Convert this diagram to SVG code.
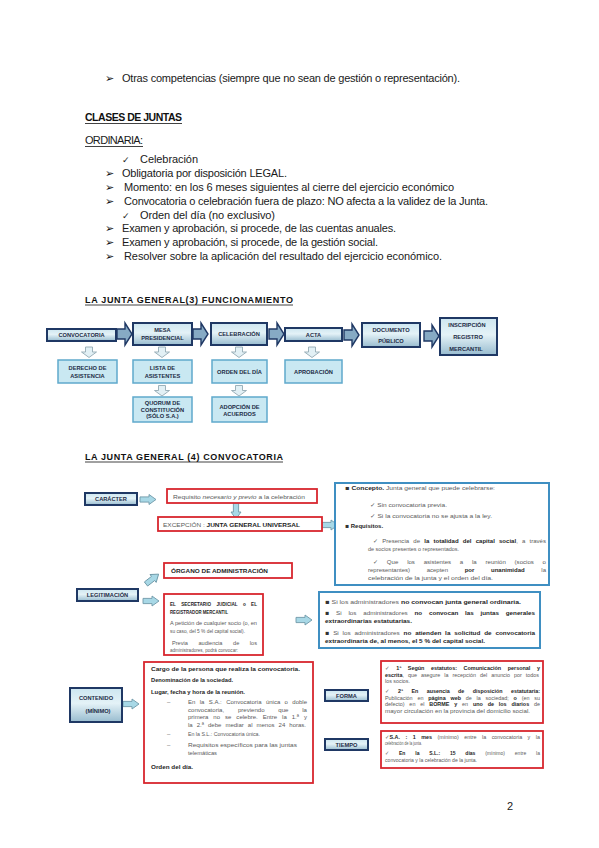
<svg xmlns="http://www.w3.org/2000/svg" width="599" height="848" viewBox="0 0 599 848">
<defs>
<style>
.t{font-family:"Liberation Sans",Arial,sans-serif;font-size:11px;fill:#1a1a1a}
.h{font-family:"Liberation Sans",Arial,sans-serif;font-weight:bold;fill:#111}
.sym{font-family:"DejaVu Sans",sans-serif}
.ar{font-family:"DejaVu Sans",sans-serif;font-size:11px;fill:#111}
.fb{font-family:"Liberation Sans",Arial,sans-serif;font-size:5.7px;font-weight:bold;fill:#1c2b45;text-anchor:middle}
.nb{fill:url(#gNavy);stroke:#1f3864;stroke-width:2}
.lb{fill:#c9e8f2;stroke:#5fa9cc;stroke-width:1.5}
.ba{fill:#86aac4;stroke:#1f3864;stroke-width:1.4}
.da{fill:#e2f0f5;stroke:#93a9b3;stroke-width:0.9}
.ca{fill:#a8d8e6;stroke:#6f98a8;stroke-width:0.9}
.rb{fill:#fff;stroke:#d8262e;stroke-width:1.8}
.bb{fill:#fff;stroke:#3f8fc2;stroke-width:2}
.s{font-family:"Liberation Sans",Arial,sans-serif;font-size:5.6px;fill:#5a5a5a}
.c6{font-size:6px}
.c62{font-size:6.2px}
.f{font-size:5.4px}
.k{font-weight:bold;fill:#1e1e1e}
.i{font-style:italic}
.ln{stroke:#111;stroke-width:0.8}
</style>
<linearGradient id="gNavy" x1="0" y1="0" x2="0" y2="1">
<stop offset="0" stop-color="#cde6f0"/>
<stop offset="0.45" stop-color="#e4f2f7"/>
<stop offset="1" stop-color="#98bccf"/>
</linearGradient>
<path id="big" d="M0,-5 H8 V-11 L15,0 L8,11 V5 H0 Z"/>
<path id="down" d="M-3.5,0 H3.5 V5 H7.5 L0,10.5 L-7.5,5 H-3.5 Z"/>
<path id="ra" d="M0,-2.6 H9 V-5 L16,0 L9,5 V2.6 H0 Z"/>
</defs>
<rect width="599" height="848" fill="#fff"/>

<g id="intro">
<text class="ar" x="105" y="82">➢</text>
<text class="t" x="122" y="82" textLength="338">Otras competencias (siempre que no sean de gestión o representación).</text>
<text class="h" x="85" y="121" font-size="10.5" textLength="97">CLASES DE JUNTAS</text>
<line class="ln" x1="85" y1="123.5" x2="182" y2="123.5"/>
<text class="t" x="85" y="144" textLength="58">ORDINARIA:</text>
<line class="ln" x1="85" y1="146.5" x2="143" y2="146.5" stroke-width="0.6"/>
<text class="sym" x="122" y="163" font-size="9" fill="#222">✓</text>
<text class="t" x="140" y="163" textLength="58">Celebración</text>
<text class="ar" x="105" y="177">➢</text>
<text class="t" x="122" y="177" textLength="165">Obligatoria por disposición LEGAL.</text>
<text class="ar" x="105" y="191">➢</text>
<text class="t" x="124" y="191" textLength="330">Momento: en los 6 meses siguientes al cierre del ejercicio económico</text>
<text class="ar" x="105" y="205">➢</text>
<text class="t" x="124" y="205" textLength="364">Convocatoria o celebración fuera de plazo: NO afecta a la validez de la Junta.</text>
<text class="sym" x="122" y="219" font-size="9" fill="#222">✓</text>
<text class="t" x="140" y="219" textLength="135">Orden del día (no exclusivo)</text>
<text class="ar" x="105" y="232">➢</text>
<text class="t" x="122" y="232" textLength="274">Examen y aprobación, si procede, de las cuentas anuales.</text>
<text class="ar" x="105" y="246">➢</text>
<text class="t" x="122" y="246" textLength="256">Examen y aprobación, si procede, de la gestión social.</text>
<text class="ar" x="105" y="260">➢</text>
<text class="t" x="124" y="260" textLength="318">Resolver sobre la aplicación del resultado del ejercicio económico.</text>
</g>

<g id="title3">
<text class="h" x="85" y="303" font-size="9" textLength="208">LA JUNTA GENERAL(3) FUNCIONAMIENTO</text>
<line class="ln" x1="85" y1="305" x2="293" y2="305"/>
</g>

<g id="flow-connectors">
<use href="#big" class="ba" x="117" y="334"/>
<use href="#big" class="ba" x="193" y="334"/>
<use href="#big" class="ba" x="269" y="334"/>
<use href="#big" class="ba" x="344" y="335"/>
<use href="#big" class="ba" x="424" y="336"/>
<use href="#down" class="da" x="89" y="347"/>
<use href="#down" class="da" x="162" y="347"/>
<use href="#down" class="da" x="239" y="347"/>
<use href="#down" class="da" x="312" y="347"/>
<use href="#down" class="da" x="162" y="385.5"/>
<use href="#down" class="da" x="239" y="385.5"/>
</g>

<g id="convocatoria"><rect class="nb" x="47" y="329" width="69" height="12"/><text class="fb" x="81.5" y="337.2">CONVOCATORIA</text></g>
<g id="mesa"><rect class="nb" x="133" y="323" width="59" height="22"/><text class="fb" x="162.5" y="332">MESA</text><text class="fb" x="162.5" y="339.5">PRESIDENCIAL</text></g>
<g id="celebracion"><rect class="nb" x="211" y="323" width="56" height="22"/><text class="fb" x="239" y="336">CELEBRACIÓN</text></g>
<g id="acta"><rect class="nb" x="285" y="328" width="57" height="13"/><text class="fb" x="313.5" y="336.8">ACTA</text></g>
<g id="documento"><rect class="nb" x="362" y="323" width="58" height="24"/><text class="fb" x="391" y="331.5">DOCUMENTO</text><text class="fb" x="391" y="343">PÚBLICO</text></g>
<g id="inscripcion"><rect class="nb" x="440" y="318" width="57" height="37"/><text class="fb" x="467" y="326.5">INSCRIPCIÓN</text><text class="fb" x="468" y="339">REGISTRO</text><text class="fb" x="466" y="351">MERCANTIL</text></g>
<g id="derecho"><rect class="lb" x="58" y="360" width="59" height="23"/><text class="fb" x="87.5" y="370">DERECHO DE</text><text class="fb" x="87.5" y="377.5">ASISTENCIA</text></g>
<g id="lista"><rect class="lb" x="133" y="360" width="59" height="23"/><text class="fb" x="162.5" y="370">LISTA DE</text><text class="fb" x="162.5" y="377.5">ASISTENTES</text></g>
<g id="orden"><rect class="lb" x="212" y="360" width="55" height="23"/><text class="fb" x="239.5" y="373.7">ORDEN DEL DÍA</text></g>
<g id="aprobacion"><rect class="lb" x="285" y="360" width="57" height="23"/><text class="fb" x="313.5" y="373.7">APROBACIÓN</text></g>
<g id="quorum"><rect class="lb" x="133" y="397" width="59" height="25"/><text class="fb" x="162.5" y="405.2">QUORUM DE</text><text class="fb" x="162.5" y="411.6">CONSTITUCIÓN</text><text class="fb" x="162.5" y="418.2">(SÓLO S.A.)</text></g>
<g id="adopcion"><rect class="lb" x="212" y="397" width="55" height="25"/><text class="fb" x="239.5" y="408.8">ADOPCIÓN DE</text><text class="fb" x="239.5" y="415.6">ACUERDOS</text></g>

<g id="title4">
<text class="h" x="85" y="460" font-size="9" textLength="198">LA JUNTA GENERAL (4) CONVOCATORIA</text>
<line class="ln" x1="85" y1="462" x2="283" y2="462"/>
</g>

<g id="conv-connectors">
<use href="#ra" class="ca" x="140" y="499.5"/>
<use href="#ra" class="ca" transform="translate(236 503) rotate(90)"/>
<use href="#ra" class="ca" x="322" y="525"/>
<use href="#ra" class="ca" transform="translate(146 584) rotate(-38)"/>
<use href="#ra" class="ca" x="143" y="601"/>
<use href="#ra" class="ca" x="296" y="620"/>
<use href="#ra" class="ca" x="123" y="704"/>
</g>

<g id="caracter"><rect class="nb" x="85" y="493" width="52" height="12"/><text class="fb" x="111" y="501.2" font-size="5.4">CARÁCTER</text></g>
<g id="requisito"><rect class="rb" x="167" y="489" width="150" height="14"/>
<text class="s" x="173" y="498.5" textLength="132" lengthAdjust="spacingAndGlyphs">Requisito <tspan class="i">necesario y previo</tspan> a la celebración</text></g>
<g id="excepcion"><rect class="rb" x="158" y="517" width="164" height="14"/>
<text class="s" x="163" y="526.5" textLength="137" lengthAdjust="spacingAndGlyphs">EXCEPCIÓN : <tspan class="k">JUNTA GENERAL UNIVERSAL</tspan></text></g>

<g id="concepto"><rect class="bb" x="335" y="483" width="214" height="102"/>
<text class="s c6" x="345" y="490" textLength="150" lengthAdjust="spacingAndGlyphs"><tspan class="sym" fill="#333">▪</tspan> <tspan class="k">Concepto.</tspan> Junta general que puede celebrarse:</text>
<text class="s c6" x="370" y="506.5" textLength="77" lengthAdjust="spacingAndGlyphs"><tspan class="sym">✓</tspan> Sin convocatoria previa.</text>
<text class="s c6" x="370" y="517.5" textLength="122" lengthAdjust="spacingAndGlyphs"><tspan class="sym">✓</tspan> Si la convocatoria no se ajusta a la ley.</text>
<text class="s c6" x="345" y="528"><tspan class="sym" fill="#333">▪</tspan> <tspan class="k">Requisitos.</tspan></text>
<text class="s c6" x="373" y="542.5" textLength="173" lengthAdjust="spacingAndGlyphs" word-spacing="2.5"><tspan class="sym">✓</tspan> Presencia de <tspan class="k">la totalidad del capital social</tspan>, a través</text>
<text class="s c6" x="368" y="550.5" textLength="91" lengthAdjust="spacingAndGlyphs">de socios presentes o representados.</text>
<text class="s c6" x="373" y="563.5" textLength="173" lengthAdjust="spacingAndGlyphs" word-spacing="7"><tspan class="sym">✓</tspan> Que los asistentes a la reunión (socios o</text>
<text class="s c6" x="368" y="571.5" textLength="178" lengthAdjust="spacingAndGlyphs" word-spacing="15">representantes) acepten <tspan class="k">por unanimidad</tspan> la</text>
<text class="s c6" x="368" y="579.5" textLength="125" lengthAdjust="spacingAndGlyphs">celebración de la junta y el orden del día.</text>
</g>

<g id="organo"><rect class="rb" x="164" y="563" width="128" height="15"/>
<text class="s k" x="171" y="572.5" textLength="97" lengthAdjust="spacingAndGlyphs">ÓRGANO DE ADMINISTRACIÓN</text></g>

<g id="legitimacion"><rect class="nb" x="77" y="589" width="61" height="12"/><text class="fb" x="107.5" y="597.2" font-size="5.4">LEGITIMACIÓN</text></g>

<g id="secretario"><rect class="rb" x="164" y="594" width="99" height="61"/>
<text class="s k" x="170" y="606" textLength="87" lengthAdjust="spacingAndGlyphs" word-spacing="5">EL SECRETARIO JUDICIAL o EL</text>
<text class="s k" x="170" y="614" textLength="58" lengthAdjust="spacingAndGlyphs">REGISTRADOR MERCANTIL</text>
<text class="s" x="170" y="625" textLength="87" lengthAdjust="spacingAndGlyphs">A petición de cualquier socio (o, en</text>
<text class="s" x="170" y="633" textLength="75" lengthAdjust="spacingAndGlyphs">su caso, del 5 % del capital social).</text>
<text class="s" x="172" y="645" textLength="85" lengthAdjust="spacingAndGlyphs" word-spacing="9">Previa audiencia de los</text>
<text class="s" x="170" y="652" textLength="68" lengthAdjust="spacingAndGlyphs">administradores, podrá convocar:</text>
</g>

<g id="supuestos"><rect class="bb" x="319" y="592" width="221" height="56"/>
<text class="s c62" x="325" y="604" textLength="196" lengthAdjust="spacingAndGlyphs"><tspan class="sym" fill="#333">▪</tspan> Si los administradores <tspan class="k">no convocan junta general ordinaria.</tspan></text>
<text class="s c62" x="325" y="615" textLength="210" lengthAdjust="spacingAndGlyphs" word-spacing="5"><tspan class="sym" fill="#333">▪</tspan> Si los administradores <tspan class="k">no convocan las juntas generales</tspan></text>
<text class="s c62 k" x="325" y="623" textLength="87" lengthAdjust="spacingAndGlyphs">extraordinarias estatutarias.</text>
<text class="s c62" x="325" y="635" textLength="210" lengthAdjust="spacingAndGlyphs" word-spacing="2"><tspan class="sym" fill="#333">▪</tspan> Si los administradores <tspan class="k">no atienden la solicitud de convocatoria</tspan></text>
<text class="s c62 k" x="325" y="643" textLength="160" lengthAdjust="spacingAndGlyphs">extraordinaria de, al menos, el 5 % del capital social.</text>
</g>

<g id="contenido"><rect class="nb" x="70" y="688" width="52" height="34"/><text class="fb" x="96" y="700" font-size="5.4">CONTENIDO</text><text class="fb" x="98" y="713" font-size="5.4">(MÍNIMO)</text></g>

<g id="contenido-box"><rect class="rb" x="144" y="662" width="169" height="121"/>
<text class="s c6 k" x="151" y="671" textLength="149" lengthAdjust="spacingAndGlyphs">Cargo de la persona que realiza la convocatoria.</text>
<text class="s c6 k" x="151" y="682" textLength="82" lengthAdjust="spacingAndGlyphs">Denominación de la sociedad.</text>
<text class="s c6 k" x="151" y="694" textLength="94" lengthAdjust="spacingAndGlyphs">Lugar, fecha y hora de la reunión.</text>
<text class="s c6" x="167" y="704">–</text>
<text class="s c6" x="188" y="704" textLength="119" lengthAdjust="spacingAndGlyphs" word-spacing="2.7">En la S.A.: Convocatoria única o doble</text>
<text class="s c6" x="188" y="711.5" textLength="119" lengthAdjust="spacingAndGlyphs" word-spacing="12">convocatoria, previendo que la</text>
<text class="s c6" x="188" y="719" textLength="119" lengthAdjust="spacingAndGlyphs" word-spacing="3.3">primera no se celebre. Entre la 1.ª y</text>
<text class="s c6" x="188" y="726.5" textLength="118" lengthAdjust="spacingAndGlyphs" word-spacing="2.4">la 2.ª debe mediar al menos 24 horas.</text>
<text class="s c6" x="167" y="736">–</text>
<text class="s c6" x="188" y="736" textLength="72" lengthAdjust="spacingAndGlyphs">En la S.L.: Convocatoria única.</text>
<text class="s c6" x="167" y="747">–</text>
<text class="s c6" x="188" y="747" textLength="109" lengthAdjust="spacingAndGlyphs">Requisitos específicos para las juntas</text>
<text class="s c6" x="188" y="754.5" textLength="29" lengthAdjust="spacingAndGlyphs">telemáticas</text>
<text class="s c6 k" x="151" y="769" textLength="42" lengthAdjust="spacingAndGlyphs">Orden del día.</text>
</g>

<g id="forma"><rect class="nb" x="325" y="690" width="43" height="11"/><text class="fb" x="346.5" y="697.9" font-size="5.2">FORMA</text></g>
<g id="forma-box"><rect class="rb" x="381" y="661" width="162" height="62"/>
<text class="s f" x="385" y="670" textLength="155" lengthAdjust="spacingAndGlyphs" word-spacing="5"><tspan class="sym">✓</tspan> <tspan class="k">1ª Según estatutos: Comunicación personal y</tspan></text>
<text class="s f" x="385" y="676.5" textLength="154" lengthAdjust="spacingAndGlyphs" word-spacing="2.5"><tspan class="k">escrita</tspan>, que asegure la recepción del anuncio por todos</text>
<text class="s f" x="385" y="683" textLength="25" lengthAdjust="spacingAndGlyphs">los socios.</text>
<text class="s f" x="385" y="693" textLength="155" lengthAdjust="spacingAndGlyphs" word-spacing="7"><tspan class="sym">✓</tspan> <tspan class="k">2ª En ausencia de disposición estatutaria:</tspan></text>
<text class="s f" x="385" y="699.5" textLength="155" lengthAdjust="spacingAndGlyphs" word-spacing="3.3">Publicación en <tspan class="k">página web</tspan> de la sociedad; <tspan class="k">o</tspan> (en su</text>
<text class="s f" x="385" y="706" textLength="155" lengthAdjust="spacingAndGlyphs" word-spacing="3.3">defecto) en el <tspan class="k">BORME y</tspan> en <tspan class="k">uno de los diarios</tspan> de</text>
<text class="s f" x="385" y="713" textLength="145" lengthAdjust="spacingAndGlyphs">mayor circulación en la provincia del domicilio social.</text>
</g>

<g id="tiempo"><rect class="nb" x="325" y="739" width="43" height="11"/><text class="fb" x="346.5" y="746.9" font-size="5.2">TIEMPO</text></g>
<g id="tiempo-box"><rect class="rb" x="381" y="731" width="162" height="37"/>
<text class="s f" x="385" y="738.5" textLength="155" lengthAdjust="spacingAndGlyphs" word-spacing="4"><tspan class="sym">✓</tspan><tspan class="k">S.A. : 1 mes</tspan> (mínimo) entre la convocatoria y la</text>
<text class="s f" x="385" y="745" textLength="37" lengthAdjust="spacingAndGlyphs">celebración de la junta.</text>
<text class="s f" x="385" y="755" textLength="155" lengthAdjust="spacingAndGlyphs" word-spacing="9"><tspan class="sym">✓</tspan> <tspan class="k">En la S.L.: 15 días</tspan> (mínimo) entre la</text>
<text class="s f" x="385" y="762" textLength="92" lengthAdjust="spacingAndGlyphs">convocatoria y la celebración de la junta.</text>
</g>

<g id="page"><text class="t" x="507" y="810">2</text></g>
</svg>
